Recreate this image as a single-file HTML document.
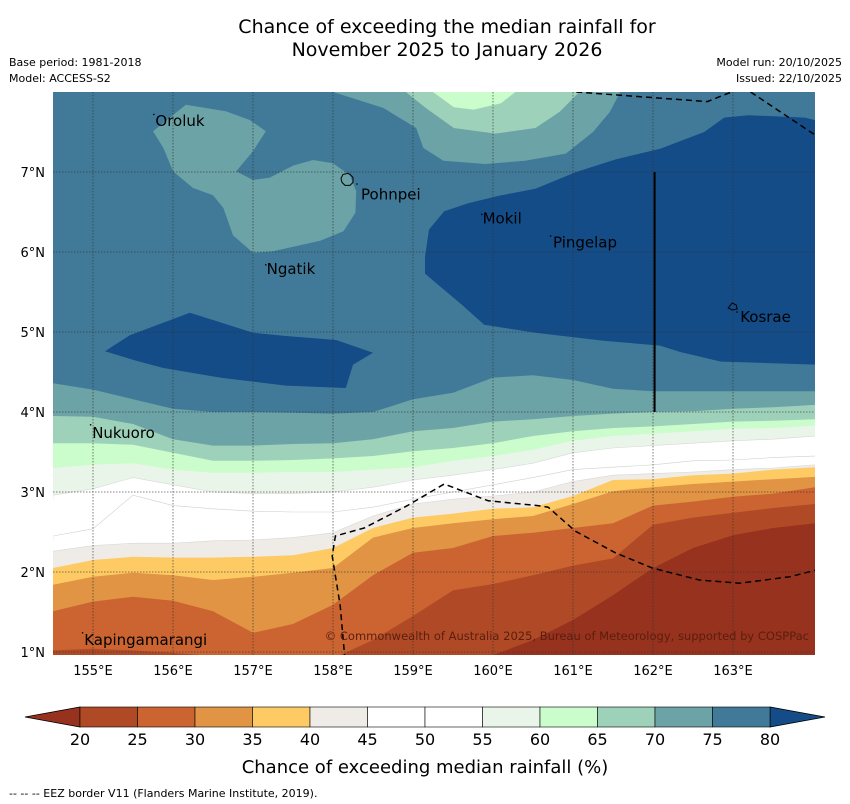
<!DOCTYPE html>
<html><head><meta charset="utf-8"><style>
body{margin:0;background:#fff;font-family:"DejaVu Sans","Liberation Sans",sans-serif;}
svg{display:block}
</style></head><body>
<svg id="chart" width="850" height="804" viewBox="0 0 850 804" xmlns="http://www.w3.org/2000/svg" font-family="DejaVu Sans, Liberation Sans, sans-serif">
<defs><clipPath id="mapclip"><rect x="53" y="92" width="762" height="563"/></clipPath></defs>
<text x="447" y="33" text-anchor="middle" font-size="19" fill="#000">Chance of exceeding the median rainfall for</text>
<text x="447" y="56" text-anchor="middle" font-size="19" fill="#000">November 2025 to January 2026</text>
<text x="9" y="66" font-size="11">Base period: 1981-2018</text>
<text x="9" y="82" font-size="11">Model: ACCESS-S2</text>
<text x="842" y="66" font-size="11" text-anchor="end">Model run: 20/10/2025</text>
<text x="842" y="82" font-size="11" text-anchor="end">Issued: 22/10/2025</text>
<g id="map" clip-path="url(#mapclip)"></g>
<g id="overlay"></g>
<g id="cbar"></g>
<text x="425" y="773" text-anchor="middle" font-size="18">Chance of exceeding median rainfall (%)</text>
<text x="9" y="797" font-size="11">--  --  -- EEZ border V11 (Flanders Marine Institute, 2019).</text>
</svg>
<script>
// ---- data ----
const bandColors = ["#97321e","#b04a26","#cb6431","#e09444","#fdca64","#efebe6","#ffffff","#ffffff","#e9f5e9","#cbfccb","#9dd1b9","#6ca3a6","#417a98","#134c87"];
const cbarTicks = [20,25,30,35,40,45,50,55,60,65,70,75,80];
const lons = [154.5,155,155.5,156,156.5,157,157.5,158,158.5,159,159.5,160,160.5,161,161.5,162,162.5,163,163.5,164.03];
const latA = [4.36,4.28,4.16,4.04,4.0,4.0,3.99,3.98,4.0,4.16,4.24,4.43,4.46,4.40,4.29,4.26,4.26,4.26,4.26,4.26];
const latB = [3.95,3.94,3.85,3.66,3.58,3.58,3.60,3.61,3.66,3.76,3.80,3.88,3.91,3.95,3.98,4.0,4.01,4.04,4.06,4.09];
const latC = [3.61,3.61,3.59,3.49,3.39,3.39,3.40,3.42,3.45,3.51,3.55,3.61,3.70,3.76,3.80,3.82,3.85,3.88,3.89,3.91];
const latD = [3.30,3.34,3.36,3.28,3.24,3.24,3.25,3.25,3.28,3.31,3.39,3.45,3.53,3.64,3.70,3.73,3.76,3.79,3.80,3.83];
const latE = [2.96,3.04,3.18,3.09,3.0,2.98,2.98,3.0,3.06,3.15,3.21,3.28,3.36,3.49,3.55,3.58,3.61,3.64,3.66,3.70];
const latF = [2.45,2.54,2.96,2.83,2.79,2.76,2.75,2.75,2.81,2.91,3.0,3.09,3.18,3.28,3.31,3.34,3.39,3.40,3.43,3.45];
const latG = [2.26,2.33,2.36,2.36,2.39,2.40,2.43,2.49,2.70,2.85,2.91,2.95,3.0,3.13,3.21,3.23,3.25,3.28,3.30,3.34];
const latH = [2.05,2.15,2.19,2.18,2.18,2.19,2.21,2.30,2.55,2.68,2.73,2.79,2.81,2.95,3.15,3.16,3.21,3.23,3.28,3.31];
const latI = [1.84,1.94,1.99,1.96,1.90,1.94,1.99,2.05,2.43,2.55,2.61,2.66,2.70,2.85,3.01,3.06,3.10,3.13,3.16,3.19];
const latJ = [1.51,1.63,1.69,1.64,1.51,1.24,1.35,1.59,1.96,2.24,2.30,2.45,2.49,2.55,2.61,2.83,2.88,2.94,2.98,3.06];
const latK = [1.02,1.04,1.02,0.99,0.95,0.92,0.92,0.92,1.15,1.45,1.77,1.85,1.96,2.08,2.17,2.59,2.68,2.74,2.80,2.85];
const latL = [0.75,0.75,0.75,0.75,0.75,0.75,0.75,0.75,0.75,0.75,0.75,0.96,1.15,1.40,1.71,2.05,2.30,2.46,2.55,2.61];
const blobTealWest = [[155.75,7.51],[156.16,7.84],[156.66,7.76],[156.96,7.65],[157.16,7.51],[157.0,7.26],[156.79,7.01],[157.0,6.9],[157.21,6.93],[157.5,7.08],[157.75,7.15],[158.0,7.11],[158.21,6.96],[158.29,6.76],[158.28,6.49],[158.13,6.26],[157.84,6.14],[157.25,6.01],[157.0,5.99],[156.75,6.21],[156.63,6.55],[156.5,6.71],[156.25,6.8],[156.0,7.01],[155.88,7.3]];
const blobTealTop = [[158.0,8.1],[158.0,8.0],[158.63,7.8],[159.04,7.55],[159.13,7.3],[159.38,7.14],[159.9,7.1],[160.4,7.14],[160.91,7.23],[161.25,7.5],[161.46,7.75],[161.59,8.0],[161.6,8.1]];
const blobLightTealTop = [[158.91,8.1],[158.91,8.0],[159.16,7.8],[159.51,7.55],[160.03,7.48],[160.53,7.55],[160.83,7.75],[161.08,8.0],[161.1,8.1]];
const blobGreenTop = [[159.25,8.1],[159.25,8.0],[159.51,7.81],[159.76,7.78],[160.1,7.86],[160.28,8.0],[160.3,8.1]];
const blobDarkWest = [[155.15,4.76],[155.46,4.96],[156.21,5.24],[156.5,5.15],[157.0,4.99],[157.41,4.95],[158.04,4.9],[158.5,4.74],[158.25,4.59],[158.16,4.3],[157.41,4.33],[156.59,4.43],[155.88,4.55],[155.54,4.64]];
const blobDarkEast = [[159.15,5.94],[159.2,6.28],[159.39,6.51],[159.69,6.61],[160.06,6.7],[160.53,6.79],[161.04,7.0],[161.54,7.16],[162.09,7.29],[162.64,7.5],[162.89,7.68],[163.19,7.71],[163.9,7.68],[164.1,7.63],[164.1,4.59],[163.49,4.61],[162.85,4.63],[162.34,4.75],[162.09,4.83],[161.38,4.89],[160.53,4.99],[159.89,5.09],[159.6,5.35],[159.35,5.56],[159.15,5.73]];
const eezSouth = [[158.15,0.9],[158.09,1.58],[157.99,2.2],[158.03,2.45],[158.39,2.55],[158.93,2.83],[159.39,3.1],[159.94,2.89],[160.56,2.83],[160.69,2.81],[161.03,2.51],[161.53,2.24],[161.99,2.05],[162.58,1.9],[163.08,1.86],[163.71,1.94],[164.06,2.03]];
const eezNorth1 = [[161.04,8.0],[162.68,7.88],[162.98,8.0]];
const eezNorth2 = [[163.22,8.0],[164.03,7.46]];
// name, text lon, text lat (baseline offset applied), marker lon, marker lat
const islands = [["Oroluk",155.78,7.64,155.76,7.72],["Pohnpei",158.35,6.72,158.3,6.85],["Mokil",159.87,6.42,159.86,6.47],["Pingelap",160.75,6.12,160.72,6.2],["Ngatik",157.17,5.79,157.16,5.84],["Kosrae",163.09,5.19,163.05,5.25],["Nukuoro",154.99,3.74,154.97,3.84],["Kapingamarangi",154.89,1.15,154.87,1.24]];
const lonTicks = [155,156,157,158,159,160,161,162,163];
const latTicks = [1,2,3,4,5,6,7];

const X = lon => 53 + (lon - 154.5) * 80;
const Y = lat => 92 + (8 - lat) * 80;
const NS = "http://www.w3.org/2000/svg";
const map = document.getElementById('map');
const ov = document.getElementById('overlay');
const cb = document.getElementById('cbar');
function mk(tag, attrs, parent){const e=document.createElementNS(NS,tag);for(const k in attrs)e.setAttribute(k,attrs[k]);parent.appendChild(e);return e;}
function ptsStr(arr){return arr.map(p=>X(p[0]).toFixed(1)+','+Y(p[1]).toFixed(1)).join(' ');}

let base = mk('rect',{x:53,y:92,width:762,height:563,fill:bandColors[12]},map);



function blob(arr, color, name){
  const p = mk('polygon',{points:ptsStr(arr),fill:color},map);
  
  
}
blob(blobTealWest, bandColors[11], 'band-70-75-west');
blob(blobTealTop, bandColors[11], 'band-70-75-north');
blob(blobLightTealTop, bandColors[10], 'band-65-70-north');
blob(blobGreenTop, bandColors[9], 'band-60-65-north');
blob(blobDarkWest, bandColors[13], 'band-above-80-west');
blob(blobDarkEast, bandColors[13], 'band-above-80-east');

function band(lats, color, name, stroke){
  const pts = lons.map((lo,i)=>[lo,lats[i]]);
  pts.push([164.2,0.5]); pts.push([154.4,0.5]);
  const p = mk('polygon',{points:ptsStr(pts),fill:color,stroke:stroke||'none','stroke-width':0.6},map);
  
  
}
band(latA, bandColors[11], 'band-70-75-south');
band(latB, bandColors[10], 'band-65-70-south');
band(latC, bandColors[9], 'band-60-65-south');
band(latD, bandColors[8], 'band-55-60-south');
band(latE, bandColors[7], 'band-50-55-south', '#d8d8d8');
band(latF, bandColors[6], 'band-45-50-south', '#d0d0d0');
band(latG, bandColors[5], 'band-40-45-south', '#d8d8d8');
band(latH, bandColors[4], 'band-35-40-south');
band(latI, bandColors[3], 'band-30-35-south');
band(latJ, bandColors[2], 'band-25-30-south');
band(latK, bandColors[1], 'band-20-25-south');
band(latL, bandColors[0], 'band-below-20-south');

lonTicks.forEach(lo=>{
  const l = mk('line',{x1:X(lo),x2:X(lo),y1:92,y2:655,stroke:'#333','stroke-width':0.8,'stroke-dasharray':'1.5,1.5','stroke-opacity':0.8},map);
  
  
});
latTicks.forEach(la=>{
  const l = mk('line',{x1:53,x2:815,y1:Y(la),y2:Y(la),stroke:'#333','stroke-width':0.8,'stroke-dasharray':'1.5,1.5','stroke-opacity':0.8},map);
  
  
});

[eezSouth,eezNorth1,eezNorth2].forEach((arr,i)=>{
  const l = mk('polyline',{points:ptsStr(arr),fill:'none',stroke:'#000','stroke-width':1.5,'stroke-dasharray':'6,4'},map);
  
  
});
const vl = mk('line',{x1:X(162.02),x2:X(162.02),y1:Y(7),y2:Y(4),stroke:'#000','stroke-width':2},map);



const pohn = mk('path',{d:`M${X(158.1)},${Y(6.92)} l2,-4 l5,-1 l2,1 l3,3 l0,5 l-3,3 l-5,0 l-3,-3 z`,fill:'none',stroke:'#000','stroke-width':1},map);


const kos = mk('path',{d:`M${X(162.94)},${Y(5.3)} l4,-5 l4,2 l1,4 l-5,1 z`,fill:'none',stroke:'#000','stroke-width':1},map);


islands.forEach(d=>{
  const dot = mk('circle',{cx:X(d[3]),cy:Y(d[4]),r:0.8,fill:'#000'},map);
  
  
  const t = mk('text',{x:X(d[1]),y:Y(d[2])+5,'font-size':15,fill:'#000'},map);
  t.textContent = d[0];
  
  
});
const cp = mk('text',{x:809,y:640,'text-anchor':'end','font-size':11.5,fill:'#5a1e0e'},map);
cp.textContent='© Commonwealth of Australia 2025, Bureau of Meteorology, supported by COSPPac';



lonTicks.forEach(lo=>{
  const t = mk('text',{x:X(lo),y:675,'text-anchor':'middle','font-size':13},ov);
  t.textContent = lo+'°E';
  
  
});
latTicks.forEach(la=>{
  const t = mk('text',{x:45,y:Y(la)+5,'text-anchor':'end','font-size':13},ov);
  t.textContent = la+'°N';
  
  
});

const cbX0=80, cbX1=770, cbY=707, cbH=20;
const cbW=(cbX1-cbX0)/(cbarTicks.length-1);
const cx = v => cbX0 + (v-cbarTicks[0])/(cbarTicks[1]-cbarTicks[0])*cbW;
const lt = mk('polygon',{points:`${cbX0},${cbY} ${cbX0},${cbY+cbH} 25,${cbY+cbH/2}`,fill:bandColors[0],stroke:'#000','stroke-width':0.8},cb);


const rt = mk('polygon',{points:`${cbX1},${cbY} ${cbX1},${cbY+cbH} 825,${cbY+cbH/2}`,fill:bandColors[13],stroke:'#000','stroke-width':0.8},cb);


for(let i=0;i<cbarTicks.length-1;i++){
  const r = mk('rect',{x:cx(cbarTicks[i]),y:cbY,width:cbW,height:cbH,fill:bandColors[i+1],stroke:'#000','stroke-width':0.6},cb);
  
  
}
cbarTicks.forEach(v=>{
  const t = mk('text',{x:cx(v),y:745,'text-anchor':'middle','font-size':16},cb);
  t.textContent = v;
  
  
});
</script>
</body></html>
